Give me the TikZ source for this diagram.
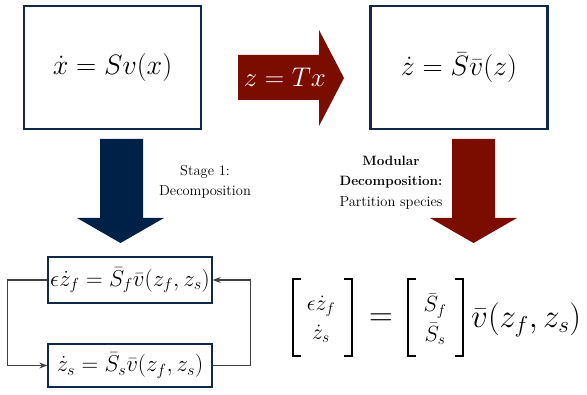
\RequirePackage{fix-cm}
\documentclass[tikz,border=0pt]{standalone}
\usepackage{amsmath}
\usetikzlibrary{arrows.meta}
\definecolor{navy}{RGB}{16,40,74}
\definecolor{navyfill}{RGB}{0,33,71}
\definecolor{darkred}{RGB}{122,12,0}
\definecolor{loopgray}{RGB}{64,64,64}
\tikzset{
  bigbox/.style={draw=navy, line width=2.2pt, minimum width=177pt, minimum height=123pt, inner sep=0pt, font=\fontsize{28}{32}\selectfont},
  smallbox/.style={draw=navy, line width=1.3pt, minimum width=164pt, inner sep=0pt, font=\fontsize{23}{27}\selectfont},
  loopline/.style={draw=loopgray, line width=1.1pt, -{Stealth[length=8pt,width=6pt,inset=2.5pt]}},
  lbl/.style={align=center, font=\fontsize{14.5}{20.5}\selectfont},
  brk/.style={line width=1.6pt, black},
  entry/.style={font=\fontsize{22}{26}\selectfont, inner sep=0pt},
  bigmath/.style={font=\fontsize{33}{37}\selectfont, inner sep=0pt}
}
\begin{document}
\begin{tikzpicture}[x=1pt,y=-1pt]
\useasboundingbox (0,0) rectangle (587,395);
% top boxes
\node[bigbox] (b1) at (112.5,67.5) {$\dot x = Sv(x)$};
\node[bigbox] (b2) at (459,67.5) {$\dot z = \bar S\bar v(z)$};
% right arrow
\fill[darkred] (238,55) -- (319,55) -- (319,30) -- (344,78) -- (319,126) -- (319,100) -- (238,100) -- cycle;
\node[text=white, font=\fontsize{27}{31}\selectfont, inner sep=0pt] (tx) at (285,77) {$z = Tx$};
% blue down arrow
\fill[navyfill] (100,139) -- (143,139) -- (143,218) -- (164,218) -- (120.5,243) -- (77,218) -- (100,218) -- cycle;
\node[lbl] (st) at (205,182) {Stage 1:\\Decomposition};
% red down arrow
\fill[darkred] (452,139) -- (495,139) -- (495,218) -- (517,218) -- (473.5,243) -- (430,218) -- (452,218) -- cycle;
\node[lbl] (md) at (391,182.5) {{\fontsize{13.5}{20.5}\selectfont\bfseries Modular}\\{\fontsize{13.5}{20.5}\selectfont\bfseries Decomposition:}\\Partition species};
% lower boxes
\node[smallbox, minimum height=46pt] (b3) at (130,280) {$\epsilon\dot z_f = \bar S_f\bar v(z_f,z_s)$};
\node[smallbox, minimum height=43pt] (b4) at (130,365.5) {$\dot z_s = \bar S_s\bar v(z_f,z_s)$};
\draw[loopline] (b3.west) -- ++(-40,0) |- (b4.west);
\draw[loopline] (b4.east) -- ++(38,0) |- (b3.east);
% matrix equation
\draw[brk] (301,279) -- (293,279) -- (293,356) -- (301,356);
\draw[brk] (344,279) -- (352,279) -- (352,356) -- (344,356);
\node[entry] (e1) at (321,306) {$\epsilon\dot z_f$};
\node[entry] (e2) at (321,334) {$\dot z_s$};
\node[bigmath] (eq) at (381,320) {$=$};
\draw[brk] (416,279) -- (408,279) -- (408,356) -- (416,356);
\draw[brk] (455,279) -- (463,279) -- (463,356) -- (455,356);
\node[entry] (s1) at (435,306) {$\bar S_f$};
\node[entry] (s2) at (435,334) {$\bar S_s$};
\node[bigmath, anchor=west] (vv) at (471,320) {$\bar v(z_f,z_s)$};
\end{tikzpicture}
\end{document}
